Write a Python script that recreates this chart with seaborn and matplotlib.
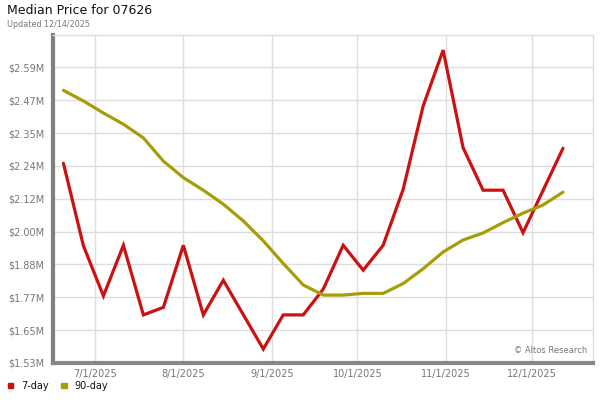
import pandas as pd
import numpy as np
import matplotlib
matplotlib.use("Agg")
import matplotlib.pyplot as plt
import matplotlib.dates as mdates
import seaborn as sns

dates = ["2025-06-20", "2025-06-27", "2025-07-04", "2025-07-11", "2025-07-18", "2025-07-25",
         "2025-08-01", "2025-08-08", "2025-08-15", "2025-08-22", "2025-08-29", "2025-09-05",
         "2025-09-12", "2025-09-19", "2025-09-26", "2025-10-03", "2025-10-10", "2025-10-17",
         "2025-10-24", "2025-10-31", "2025-11-07", "2025-11-14", "2025-11-21", "2025-11-28",
         "2025-12-05", "2025-12-12"]
seven_day = [2.244, 1.949, 1.770, 1.951, 1.702, 1.729, 1.951, 1.702, 1.826, 1.703,
             1.580, 1.702, 1.702, 1.794, 1.951, 1.862, 1.951, 2.151, 2.449, 2.649,
             2.300, 2.148, 2.148, 1.996, 2.147, 2.298]
ninety_day = [2.505, 2.467, 2.424, 2.384, 2.335, 2.252, 2.193, 2.148, 2.098, 2.038,
              1.967, 1.886, 1.809, 1.773, 1.773, 1.779, 1.779, 1.814, 1.867, 1.927,
              1.970, 1.995, 2.032, 2.066, 2.095, 2.141]
series_names = ["7-day", "90-day"]
y_ticks = [1.53, 1.6475, 1.765, 1.8825, 2.00, 2.1175, 2.235, 2.3525, 2.47, 2.5875]
y_labels = ["$1.53M", "$1.65M", "$1.77M", "$1.88M", "$2.00M", "$2.12M", "$2.24M", "$2.35M", "$2.47M", "$2.59M"]
x_ticks = ["2025-07-01", "2025-08-01", "2025-09-01", "2025-10-01", "2025-11-01", "2025-12-01"]
x_labels = ["7/1/2025", "8/1/2025", "9/1/2025", "10/1/2025", "11/1/2025", "12/1/2025"]

colors = {"7-day": "#cc1111", "90-day": "#a39e0a"}

df = pd.DataFrame({
    "date": pd.to_datetime(dates * 2),
    "value": seven_day + ninety_day,
    "series": [series_names[0]] * len(dates) + [series_names[1]] * len(dates),
})

sns.set_style("white")
plt.rcParams["font.family"] = ["DejaVu Sans"]

fig = plt.figure(figsize=(6, 4), dpi=100)
ax = fig.add_axes([0.0883, 0.0925, 0.9, 0.82])

sns.lineplot(data=df, x="date", y="value", hue="series", palette=colors,
             linewidth=2.3, ax=ax, legend=False, zorder=3)
for ln in ax.get_lines():
    ln.set_solid_joinstyle("miter")

ax.set_xlim(pd.Timestamp("2025-06-16 08:00"), pd.Timestamp("2025-12-22 12:00"))
ax.set_ylim(1.53, 2.703)
ax.set_yticks(y_ticks)
ax.set_yticklabels(y_labels)
ax.set_xticks(pd.to_datetime(x_ticks))
ax.set_xticklabels(x_labels)
ax.set_xlabel("")
ax.set_ylabel("")
ax.grid(True, color="#dddddd", linewidth=1.0, zorder=0)
ax.tick_params(axis="both", length=0, labelsize=7, colors="#777777")
ax.tick_params(axis="y", pad=6)
ax.tick_params(axis="x", pad=4)

for s in ["top", "right"]:
    ax.spines[s].set_color("#dddddd")
    ax.spines[s].set_linewidth(1.0)
ax.spines["left"].set_color("#808080")
ax.spines["left"].set_linewidth(3)
ax.spines["bottom"].set_color("#888888")
ax.spines["bottom"].set_linewidth(3)

fig.text(0.012, 0.965, "Median Price for 07626", fontsize=9, color="#111111", va="baseline")
fig.text(0.012, 0.933, "Updated 12/14/2025", fontsize=5.8, color="#777777", va="baseline")
ax.text(0.99, 0.025, "\u00a9 Altos Research", transform=ax.transAxes, ha="right", va="bottom",
        fontsize=6, color="#777777")

# legend
for name, xpos in zip(series_names, [0.013, 0.102]):
    fig.patches.append(plt.Rectangle((xpos, 0.029), 0.009, 0.0135, transform=fig.transFigure,
                                     color=colors[name], figure=fig))
    fig.text(xpos + 0.022, 0.035, name, fontsize=7, color="#111111", va="center")

fig.savefig("out.png", dpi=100)
